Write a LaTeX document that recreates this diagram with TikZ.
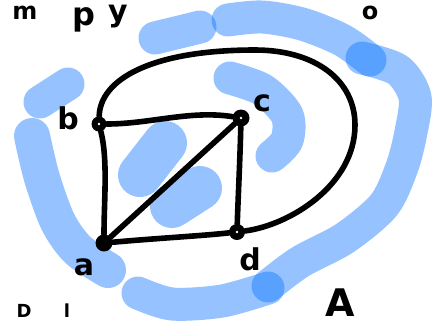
\documentclass[tikz,border=0pt]{standalone}
\usepackage{fontspec}
\setmainfont{DejaVu Sans}
\begin{document}
\begin{tikzpicture}[x=1pt,y=-1pt,
  hl/.style={draw=hlblue,draw opacity=0.43,line width=33pt,line cap=round,line join=round},
  ink/.style={draw=black,line width=5.6pt,line cap=round},
  dotn/.style={circle,fill=black,inner sep=0pt,minimum size=15pt},
  loopn/.style={dotn,path picture={\fill[white] (path picture bounding box.center) circle (1.3pt);}},
  lbl/.style={font=\bfseries\fontsize{30}{30}\selectfont,inner sep=0pt},
  scrib/.style={font=\bfseries\fontsize{24}{24}\selectfont,inner sep=0pt}]
\definecolor{hlblue}{RGB}{11,116,255}
\useasboundingbox (0,0) rectangle (439,325);
\clip (0,0) rectangle (439,325);
% blue highlighter strokes
\draw[hl] (155,38) -- (200,27);
\draw[hl] plot[smooth] coordinates {(228,20) (262,17) (302,24) (342,40) (370,60)};
\draw[hl] plot[smooth] coordinates {(362,58) (398,70) (415,97) (411,132) (402,167) (384,205) (345,238) (300,262) (268,286)};
\draw[hl] plot[smooth] coordinates {(138,293) (172,304) (222,301) (268,288)};
\draw[hl,line width=36pt] plot[smooth] coordinates {(32,136) (42,178) (58,222) (78,250) (108,270)};
\draw[hl] (40,102) -- (68,84);
\draw[hl] plot[smooth] coordinates {(230,78) (263,90) (287,115) (287,140) (272,156)};
\draw[hl,line width=44pt] (165,143) -- (140,175);
\draw[hl,line width=44pt] (200,188) -- (172,206);
% graph
\node[loopn] (b) at (99,124) {};
\node[loopn,minimum width=17pt] (c) at (241,118) {};
\node[dotn,minimum size=17pt] (a) at (104,243) {};
\node[loopn,minimum size=16pt] (d) at (237,232) {};
\draw[ink] (b) .. controls (150,124) and (190,110) .. (c);
\draw[ink] (b) .. controls (108,160) and (104,200) .. (a);
\draw[ink] (a) .. controls (160,238) and (200,236) .. (d);
\draw[ink] (c) .. controls (240,160) and (238,200) .. (d);
\draw[ink] (a) -- (c);
\coordinate (h1) at (255,50);
\coordinate (h2) at (355,125);
\draw[ink] (b) .. controls (100,80) and (150,50) .. (h1)
  .. controls (315,50) and (355,80) .. (h2)
  .. controls (355,185) and (290,225) .. (d);
% labels
\node[lbl] (lb) at (68,118) {b};
\node[lbl] (lc) at (262,103) {c};
\node[lbl] (la) at (84,267) {a};
\node[lbl] (ld) at (250,259) {d};
% handwriting at the edges
\node[scrib] (t1) at (25,13) {m};
\node[scrib,font=\bfseries\fontsize{32}{32}\selectfont] (t2) at (84,20) {p};
\node[scrib,font=\bfseries\fontsize{30}{30}\selectfont] (t3) at (118,17) {y};
\node[scrib] (t4) at (370,13) {o};
\node[scrib,font=\bfseries\fontsize{38}{38}\selectfont] (t5) at (340,303) {A};
\node[scrib,font=\bfseries\fontsize{18}{18}\selectfont] (t6) at (24,311) {D};
\node[scrib,font=\bfseries\fontsize{18}{18}\selectfont] (t7) at (67,311) {l};
\end{tikzpicture}
\end{document}
